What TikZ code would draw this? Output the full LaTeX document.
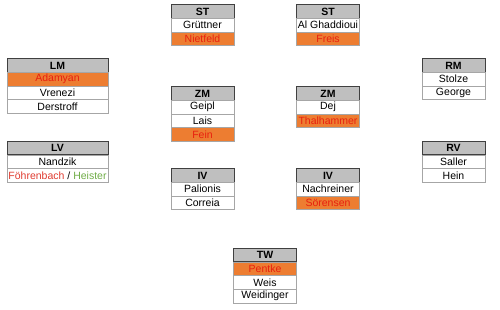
\documentclass[tikz,border=0pt]{standalone}
\usepackage{fontspec}
\setmainfont{Liberation Sans}
\usetikzlibrary{positioning}
\definecolor{hdgray}{HTML}{BFBFBF}
\definecolor{hdline}{HTML}{404040}
\definecolor{cellline}{HTML}{A6A6A6}
\definecolor{outorange}{HTML}{ED7D31}
\definecolor{outred}{HTML}{E8200F}
\definecolor{lvred}{HTML}{E03C31}
\definecolor{lvgreen}{HTML}{70AD47}

\begin{document}
\begin{tikzpicture}[x=1pt, y=-1pt, font=\fontsize{10.5}{12}\selectfont,
  node distance=0pt,
  hd/.style={draw=hdline, line width=1pt, fill=hdgray, minimum width=#1, minimum height=13.7pt,
             inner sep=0pt, outer sep=0pt, font=\fontsize{10.5}{12}\selectfont\bfseries},
  hd/.default=63pt,
  pl/.style={draw=cellline, line width=0.6pt, fill=white, minimum width=#1, minimum height=13.7pt,
             inner sep=0pt, outer sep=0pt},
  pl/.default=63pt,
  out/.style={pl=#1, fill=outorange, text=outred},
  out/.default=63pt]
  \useasboundingbox (0,0) rectangle (500,309);
  % --- strikers ---
  \node[hd] (stl) at (202.5,11.5) {ST};
  \node[pl, below=of stl] (stl1) {Grüttner};
  \node[out, below=of stl1] (stl2) {Nietfeld};
  \node[hd] (str) at (328,11.5) {ST};
  \node[pl, below=of str] (str1) {Al Ghaddioui};
  \node[out, below=of str1] (str2) {Freis};
  % --- wide midfield ---
  \node[hd=101pt] (lm) at (57.5,65.5) {LM};
  \node[out=101pt, below=of lm] (lm1) {Adamyan};
  \node[pl=101pt, below=of lm1] (lm2) {Vrenezi};
  \node[pl=101pt, below=of lm2] (lm3) {Derstroff};
  \node[hd] (rm) at (453.5,65.5) {RM};
  \node[pl, below=of rm] (rm1) {Stolze};
  \node[pl, below=of rm1] (rm2) {George};
  % --- central midfield ---
  \node[hd] (zml) at (202.5,93.5) {ZM};
  \node[pl, below=of zml] (zml1) {Geipl};
  \node[pl, below=of zml1] (zml2) {Lais};
  \node[out, below=of zml2] (zml3) {Fein};
  \node[hd] (zmr) at (328,93.5) {ZM};
  \node[pl, below=of zmr] (zmr1) {Dej};
  \node[out, below=of zmr1] (zmr2) {Thalhammer};
  % --- full backs ---
  \node[hd=101pt] (lv) at (57.5,148) {LV};
  \node[pl=101pt, below=of lv] (lv1) {Nandzik};
  \node[pl=101pt, below=of lv1] (lv2) {\textcolor{lvred}{Föhrenbach} / \textcolor{lvgreen}{Heister}};
  \node[hd] (rv) at (453.5,148) {RV};
  \node[pl, below=of rv] (rv1) {Saller};
  \node[pl, below=of rv1] (rv2) {Hein};
  % --- centre backs ---
  \node[hd] (ivl) at (202.5,175.5) {IV};
  \node[pl, below=of ivl] (ivl1) {Palionis};
  \node[pl, below=of ivl1] (ivl2) {Correia};
  \node[hd] (ivr) at (328,175.5) {IV};
  \node[pl, below=of ivr] (ivr1) {Nachreiner};
  \node[out, below=of ivr1] (ivr2) {Sörensen};
  % --- goal ---
  \node[hd] (tw) at (265,255) {TW};
  \node[out, below=of tw] (tw1) {Pentke};
  \node[pl, below=of tw1] (tw2) {Weis};
  \node[pl, below=of tw2] (tw3) {Weidinger};
\end{tikzpicture}
\end{document}
